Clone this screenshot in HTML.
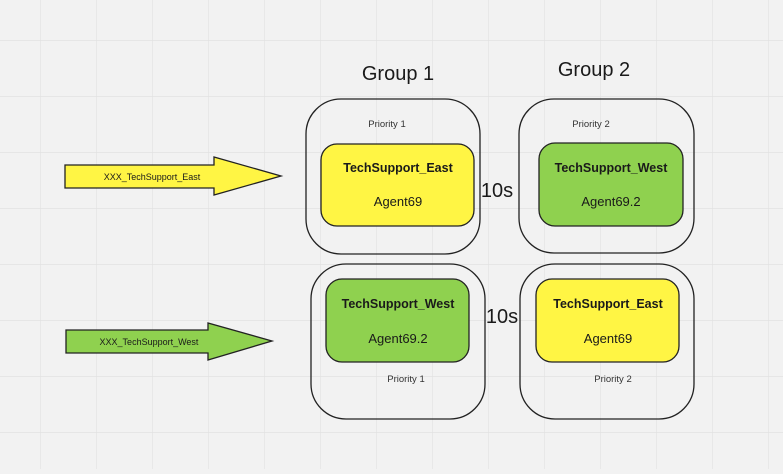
<!DOCTYPE html>
<html><head><style>
body{margin:0;width:783px;height:469px;overflow:hidden;background:#f2f2f2;font-family:"Liberation Sans","DejaVu Sans",sans-serif}
</style></head><body>
<svg width="783" height="469" xmlns="http://www.w3.org/2000/svg" font-family="Liberation Sans, DejaVu Sans, sans-serif">
<defs><pattern id="g" x="40" y="40" width="56" height="56" patternUnits="userSpaceOnUse"><path d="M0 0H56M0 0V56" stroke="#e0e0e0" stroke-width="1.2" fill="none"/></pattern></defs>
<rect width="783" height="469" fill="#f2f2f2"/>
<rect width="783" height="469" fill="url(#g)"/>
<g fill="none" stroke="#222" stroke-width="1.3">
<rect x="306" y="99" width="174" height="155" rx="35"/>
<rect x="519" y="99" width="175" height="154" rx="35"/>
<rect x="311" y="264" width="174" height="155" rx="35"/>
<rect x="520" y="264" width="174" height="155" rx="35"/>
</g>
<g stroke="#222" stroke-width="1.3">
<rect x="321" y="144" width="153" height="82" rx="16" fill="#fff544"/>
<rect x="539" y="143" width="144" height="83" rx="16" fill="#8fd14f"/>
<rect x="326" y="279" width="143" height="83" rx="16" fill="#8fd14f"/>
<rect x="536" y="279" width="143" height="83" rx="16" fill="#fff544"/>
<polygon points="65,165 214,165 214,157 281,176 214,195 214,188 65,188" fill="#fff544"/>
<polygon points="66,330 208,330 208,323 272,341 208,360 208,353 66,353" fill="#8fd14f"/>
</g>
<g fill="#1a1a1a" text-anchor="middle">
<text x="398" y="80" font-size="20">Group 1</text>
<text x="594" y="76" font-size="20">Group 2</text>
<text x="497" y="197" font-size="20">10s</text>
<text x="502" y="323" font-size="20">10s</text>
<text x="387" y="127" font-size="9.5" fill="#333">Priority 1</text>
<text x="591" y="127" font-size="9.5" fill="#333">Priority 2</text>
<text x="406" y="382" font-size="9.5" fill="#333">Priority 1</text>
<text x="613" y="382" font-size="9.5" fill="#333">Priority 2</text>
<text x="398" y="172" font-size="12.5" font-weight="bold">TechSupport_East</text>
<text x="398" y="206" font-size="13">Agent69</text>
<text x="611" y="172" font-size="12.5" font-weight="bold">TechSupport_West</text>
<text x="611" y="206" font-size="13">Agent69.2</text>
<text x="398" y="308" font-size="12.5" font-weight="bold">TechSupport_West</text>
<text x="398" y="343" font-size="13">Agent69.2</text>
<text x="608" y="308" font-size="12.5" font-weight="bold">TechSupport_East</text>
<text x="608" y="343" font-size="13">Agent69</text>
<text x="152" y="180" font-size="9">XXX_TechSupport_East</text>
<text x="149" y="345" font-size="9">XXX_TechSupport_West</text>
</g>
</svg>
</body></html>
